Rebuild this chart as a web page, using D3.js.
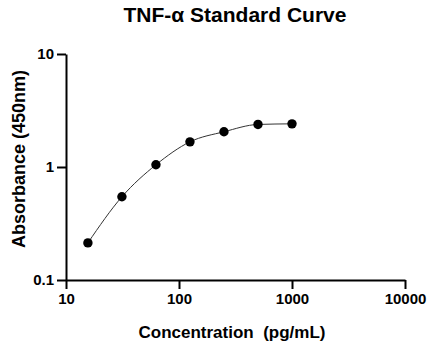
<!DOCTYPE html>
<html>
<head>
<meta charset="utf-8">
<script src="https://cdn.jsdelivr.net/npm/d3@7"></script>
<style>
html,body{margin:0;padding:0;background:#fff;}
svg{display:block;font-family:"Liberation Sans",Arial,sans-serif;}
</style>
</head>
<body>
<svg id="chart" width="431" height="349"></svg>
<script>
const concentrations = [15.625, 31.25, 62.5, 125, 250, 500, 1000];
const absorbance = [0.213, 0.545, 1.046, 1.67, 2.05, 2.38, 2.41];
const xTicks = [10, 100, 1000, 10000];
const yTicks = [0.1, 1, 10];
const yTickLabels = ["0.1", "1", "10"];
const xTickLabels = ["10", "100", "1000", "10000"];
const title = "TNF-\u03b1 Standard Curve";
const xLabel = "Concentration\u00a0\u00a0(pg/mL)";
const yLabel = "Absorbance (450nm)";

const svg = d3.select("#chart");
const x = d3.scaleLog().domain([10, 10000]).range([66, 405]);
const y = d3.scaleLog().domain([0.1, 10]).range([280, 54]);

const xAxis = d3.axisBottom(x).tickValues(xTicks)
  .tickFormat((d, i) => xTickLabels[i]).tickSize(9).tickSizeOuter(0).tickPadding(4);
const yAxis = d3.axisLeft(y).tickValues(yTicks)
  .tickFormat((d, i) => yTickLabels[i]).tickSize(9).tickSizeOuter(0).tickPadding(3);

const gx = svg.append("g").attr("transform", "translate(0,280)").call(xAxis);
const gy = svg.append("g").attr("transform", "translate(66,0)").call(yAxis);
[gx, gy].forEach(g => {
  g.selectAll("path, line").attr("stroke", "#000").attr("stroke-width", 2);
  g.selectAll("text").attr("fill", "#000").style("font-size", "15px").style("font-weight", "bold")
    .style("font-family", "'Liberation Sans', Arial, sans-serif");
});

const line = d3.line()
  .x((d, i) => x(concentrations[i]))
  .y(d => y(d))
  .curve(d3.curveMonotoneX);
svg.append("path").datum(absorbance)
  .attr("d", line).attr("fill", "none").attr("stroke", "#333").attr("stroke-width", 1);

svg.append("g").selectAll("circle").data(absorbance).join("circle")
  .attr("cx", (d, i) => x(concentrations[i]))
  .attr("cy", d => y(d))
  .attr("r", 4.7).attr("fill", "#000");

svg.append("text").attr("x", 235).attr("y", 22).attr("text-anchor", "middle")
  .style("font-size", "21px").style("font-weight", "bold").text(title);
svg.append("text").attr("x", 232).attr("y", 338).attr("text-anchor", "middle")
  .style("font-size", "17px").style("font-weight", "bold").text(xLabel);
svg.append("text").attr("transform", "translate(25,159) rotate(-90)").attr("text-anchor", "middle")
  .style("font-size", "18px").style("font-weight", "bold").text(yLabel);
</script>
</body>
</html>
